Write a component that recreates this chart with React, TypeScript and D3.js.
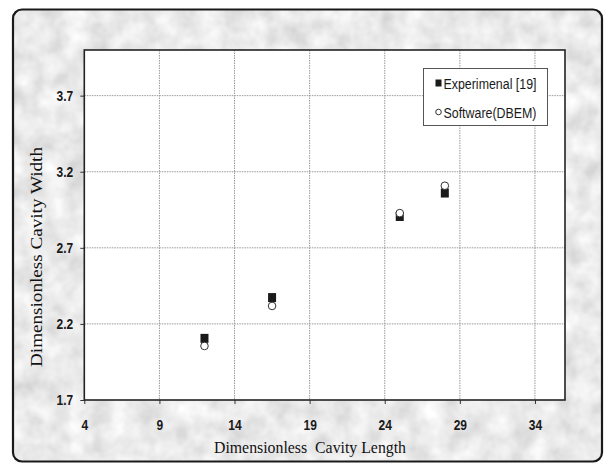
import React, { useEffect, useRef } from 'react';
import * as d3 from 'd3';

// values
const cavityLength = [12, 16.5, 25, 28];
const experimentalWidth = [2.105, 2.373, 2.906, 3.06];
const softwareWidth = [2.055, 2.318, 2.928, 3.108];
const xTicks = [4, 9, 14, 19, 24, 29, 34];
const yTicks = [1.7, 2.2, 2.7, 3.2, 3.7];
const legendLabels = ['Experimenal [19]', 'Software(DBEM)'];

const W = 606;
const H = 464;

export default function App() {
  const ref = useRef<SVGSVGElement>(null);

  useEffect(() => {
    const svg = d3.select(ref.current);
    svg.selectAll('*').remove();

    const margin = { left: 84.3, top: 50, right: W - 565, bottom: H - 400 };
    const chartW = W - margin.left - margin.right;
    const chartH = H - margin.top - margin.bottom;

    const defs = svg.append('defs');
    const filter = defs.append('filter').attr('id', 'marble')
      .attr('x', 0).attr('y', 0).attr('width', 1).attr('height', 1);
    filter.append('feTurbulence')
      .attr('type', 'fractalNoise')
      .attr('baseFrequency', 0.045)
      .attr('numOctaves', 3)
      .attr('seed', 4)
      .attr('result', 'noise');
    filter.append('feColorMatrix')
      .attr('in', 'noise')
      .attr('type', 'matrix')
      .attr('values', '0.45 0 0 0 0.6  0.45 0 0 0 0.6  0.45 0 0 0 0.6  0 0 0 0 1')
      .attr('result', 'gray');
    filter.append('feComposite')
      .attr('in', 'gray').attr('in2', 'SourceGraphic').attr('operator', 'in');

    // outer frame
    svg.append('rect')
      .attr('x', 13).attr('y', 9.5).attr('width', 589).attr('height', 452)
      .attr('rx', 9)
      .attr('fill', '#d4d4d4')
      .attr('filter', 'url(#marble)');
    svg.append('rect')
      .attr('x', 13).attr('y', 9.5).attr('width', 589).attr('height', 452)
      .attr('rx', 9)
      .attr('fill', 'none')
      .attr('stroke', '#1a1a1a')
      .attr('stroke-width', 2.2);

    const chart = svg.append('g').attr('transform', `translate(${margin.left}, ${margin.top})`);

    const xScale = d3.scaleLinear().domain([4, 36]).range([0, chartW]);
    const yScale = d3.scaleLinear().domain([1.7, 4.0]).range([chartH, 0]);

    chart.append('rect')
      .attr('width', chartW).attr('height', chartH)
      .attr('fill', '#ffffff');

    // grid
    chart.append('g')
      .selectAll('line')
      .data(xTicks.slice(1))
      .enter()
      .append('line')
      .attr('x1', d => xScale(d)).attr('x2', d => xScale(d))
      .attr('y1', 0).attr('y2', chartH)
      .attr('stroke', '#999')
      .attr('stroke-width', 1)
      .attr('stroke-dasharray', '1.5,1');
    chart.append('g')
      .selectAll('line')
      .data(yTicks.slice(1))
      .enter()
      .append('line')
      .attr('x1', 0).attr('x2', chartW)
      .attr('y1', d => yScale(d)).attr('y2', d => yScale(d))
      .attr('stroke', '#999')
      .attr('stroke-width', 1)
      .attr('stroke-dasharray', '1.5,1');

    const tickFont = '"Liberation Sans", Arial, sans-serif';

    // squeeze text horizontally to look like a narrow face
    const narrow = (sel: any, k: number) => {
      sel.each(function (this: SVGTextElement) {
        const w = this.getComputedTextLength();
        d3.select(this).attr('textLength', w * k).attr('lengthAdjust', 'spacingAndGlyphs');
      });
    };

    const xAxis = chart.append('g')
      .attr('transform', `translate(0, ${chartH})`)
      .call(d3.axisBottom(xScale).tickValues(xTicks).tickSize(4).tickPadding(15).tickFormat(d3.format('d')));
    const yAxis = chart.append('g')
      .call(d3.axisLeft(yScale).tickValues(yTicks).tickSize(4).tickPadding(7).tickFormat(d3.format('.1f')));
    [xAxis, yAxis].forEach(a => {
      a.select('.domain').remove();
      a.selectAll('line').attr('stroke', '#333');
      a.selectAll('text')
        .attr('fill', '#1a1a1a')
        .style('font-family', tickFont)
        .style('font-size', '15px')
        .style('font-weight', 'bold');
      narrow(a.selectAll('text'), 0.8);
    });

    chart.append('rect')
      .attr('width', chartW).attr('height', chartH)
      .attr('fill', 'none')
      .attr('stroke', '#222')
      .attr('stroke-width', 1.6);

    // series
    const pts = cavityLength.map((x, i) => ({ x, e: experimentalWidth[i], s: softwareWidth[i] }));
    chart.selectAll('rect.exp')
      .data(pts)
      .enter()
      .append('rect')
      .attr('class', 'exp')
      .attr('x', d => xScale(d.x) - 4)
      .attr('y', d => yScale(d.e) - 4.5)
      .attr('width', 8).attr('height', 9)
      .attr('fill', '#1a1a1a');
    chart.selectAll('circle.sw')
      .data(pts)
      .enter()
      .append('circle')
      .attr('class', 'sw')
      .attr('cx', d => xScale(d.x))
      .attr('cy', d => yScale(d.s))
      .attr('r', 3.8)
      .attr('fill', '#ffffff')
      .attr('stroke', '#333')
      .attr('stroke-width', 1);

    // legend
    const legend = svg.append('g').attr('transform', 'translate(423.5, 68.5)');
    legend.append('rect')
      .attr('width', 124).attr('height', 57)
      .attr('fill', '#ffffff')
      .attr('stroke', '#555')
      .attr('stroke-width', 1);
    legend.append('rect')
      .attr('x', 12).attr('y', 11).attr('width', 6).attr('height', 7)
      .attr('fill', '#1a1a1a');
    legend.append('circle')
      .attr('cx', 15).attr('cy', 43.5).attr('r', 2.8)
      .attr('fill', '#fff').attr('stroke', '#333').attr('stroke-width', 1);
    legend.selectAll('text')
      .data(legendLabels)
      .enter()
      .append('text')
      .attr('x', 20)
      .attr('y', (d, i) => 20 + i * 29.5)
      .attr('fill', '#1a1a1a')
      .attr('textLength', 93)
      .attr('lengthAdjust', 'spacingAndGlyphs')
      .style('font-family', tickFont)
      .style('font-size', '14px')
      .text(d => d);

    // axis titles
    svg.append('text')
      .attr('x', 310).attr('y', 453)
      .attr('text-anchor', 'middle')
      .attr('fill', '#111')
      .attr('textLength', 192)
      .attr('lengthAdjust', 'spacingAndGlyphs')
      .style('font-family', '"Liberation Serif", "Times New Roman", serif')
      .style('font-size', '17px')
      .style('white-space', 'pre')
      .text('Dimensionless  Cavity Length');
    svg.append('text')
      .attr('transform', 'translate(42, 257) rotate(-90)')
      .attr('text-anchor', 'middle')
      .attr('fill', '#111')
      .style('font-family', '"Liberation Serif", "Times New Roman", serif')
      .style('font-size', '17px')
      .attr('textLength', 220)
      .attr('lengthAdjust', 'spacingAndGlyphs')
      .text('Dimensionless Cavity Width');
  }, []);

  return (
    <svg
      ref={ref}
      width={W}
      height={H}
      style={{ position: 'absolute', left: 0, top: 0, display: 'block', background: '#fff' }}
    />
  );
}
